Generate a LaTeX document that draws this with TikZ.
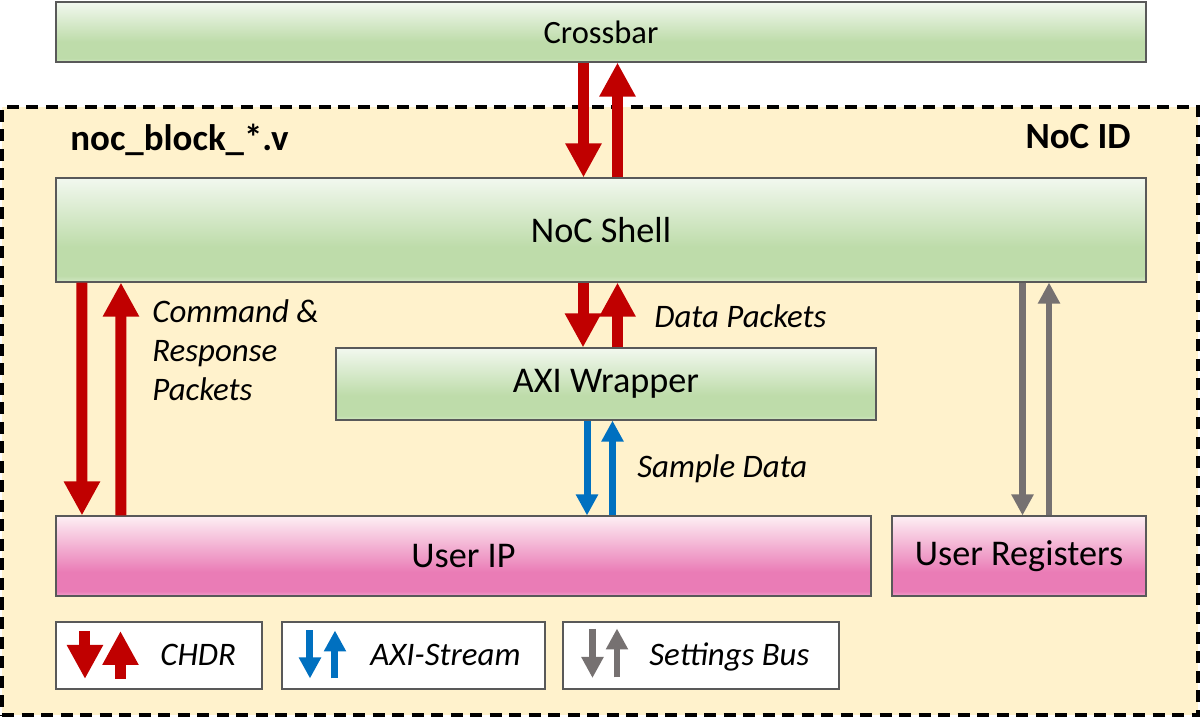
\documentclass[tikz,border=0pt]{standalone}
\usepackage{fontspec}
\setmainfont{Carlito}
\usetikzlibrary{arrows.meta}
\definecolor{chdrred}{HTML}{C00000}
\definecolor{axisblue}{HTML}{0070C0}
\definecolor{busgrey}{HTML}{767171}
\definecolor{blockbg}{HTML}{FFF2CC}
\definecolor{boxline}{HTML}{595959}
\definecolor{grntop}{HTML}{F2F8EF}
\definecolor{grnbot}{HTML}{BEDCAA}
\definecolor{grnlo}{HTML}{D2E8C4}
\definecolor{pnktop}{HTML}{FDEFF4}
\definecolor{pnkbot}{HTML}{EA7CB6}
\definecolor{pnklo}{HTML}{F2A2CC}
\pgfdeclareverticalshading{greenfade}{100bp}{color(0bp)=(grnlo); color(25bp)=(grnlo); color(28bp)=(grnbot); color(42bp)=(grnbot); color(75bp)=(grntop); color(100bp)=(grntop)}
\pgfdeclareverticalshading{pinkfade}{100bp}{color(0bp)=(pnklo); color(25bp)=(pnklo); color(28bp)=(pnkbot); color(40bp)=(pnkbot); color(75bp)=(pnktop); color(100bp)=(pnktop)}
\tikzset{
  block/.style = {draw=boxline, line width=0.6pt, inner sep=0pt,
    font=\fontsize{20.6}{24}\selectfont},
  greenblock/.style = {block, shading=greenfade},% crossbar, shell, wrapper
  pinkblock/.style = {block, shading=pinkfade},% user side
  outerblock/.style = {draw=black, fill=blockbg, line width=0.08cm,
    dash pattern=on 0.24cm off 0.15cm, inner sep=0pt},
  legbox/.style = {draw=boxline, line width=0.6pt, fill=white, inner sep=0pt,
    minimum height=1.34cm},
  itext/.style = {font=\fontsize{18.7}{22}\selectfont\itshape, inner sep=0pt},
  btext/.style = {font=\fontsize{21}{25}\selectfont\bfseries, inner sep=0pt},
  chdrarrow/.style = {draw=chdrred, line width=0.22cm,
    -{Triangle[width=0.68cm,length=0.68cm]}},
  axisarrow/.style = {draw=axisblue, line width=0.14cm,
    -{Triangle[width=0.42cm,length=0.42cm]}},
  busarrow/.style = {draw=busgrey, line width=0.13cm,
    -{Triangle[width=0.42cm,length=0.42cm]}},
}
\begin{document}
\begin{tikzpicture}
\useasboundingbox (0,0) rectangle (24,-14.34);
\node [greenblock, minimum width=21.8cm, minimum height=1.2cm,
  font=\fontsize{18.5}{22}\selectfont] (crossbar) at (12.02,-0.64) {Crossbar};
\node [outerblock, minimum width=23.92cm, minimum height=12.16cm] (nocblock) at (12,-8.22) {};
\node [btext, anchor=base west] (blockname) at (1.4,-3.0) {noc\_block\_*.v};
\node [btext, anchor=base east] (nocid) at (22.62,-2.97) {NoC ID};
\node [greenblock, minimum width=21.8cm, minimum height=2.08cm] (shell) at (12.02,-4.6) {NoC Shell};
\node [greenblock, minimum width=10.8cm, minimum height=1.44cm] (axiwrap) at (12.12,-7.68) {AXI Wrapper};
\node [pinkblock, minimum width=16.3cm, minimum height=1.6cm] (userip) at (9.27,-11.12) {User IP};
\node [pinkblock, minimum width=5.08cm, minimum height=1.6cm] (userreg) at (20.38,-11.12) {User Registers};

% crossbar <-> shell
\draw [chdrarrow] ([xshift=-0.35cm]crossbar.south) -- ([xshift=-0.35cm]shell.north);
\draw [chdrarrow] ([xshift=0.33cm]shell.north) -- ([xshift=0.33cm]crossbar.south);
% shell <-> user ip
\draw [chdrarrow] ([xshift=0.53cm]shell.south west) -- ([xshift=0.53cm]userip.north west);
\draw [chdrarrow] ([xshift=1.31cm]userip.north west) -- ([xshift=1.31cm]shell.south west);
\node [itext, align=left, anchor=base west] (cmdtext) at (3.04,-8.0) {Command \&\\Response\\Packets};
% shell <-> wrapper
\draw [chdrarrow] ([xshift=-0.36cm]shell.south) -- ([xshift=-0.36cm]shell.south |- axiwrap.north);
\draw [chdrarrow] ([xshift=0.33cm]shell.south |- axiwrap.north) -- ([xshift=0.33cm]shell.south);
\node [itext, anchor=base west] (datatext) at (13.08,-6.54) {Data Packets};
% wrapper <-> user ip
\draw [axisarrow] ([xshift=-0.38cm]axiwrap.south) -- ([xshift=-0.38cm]axiwrap.south |- userip.north);
\draw [axisarrow] ([xshift=0.13cm]axiwrap.south |- userip.north) -- ([xshift=0.13cm]axiwrap.south);
\node [itext, anchor=base west] (sampletext) at (12.74,-9.54) {Sample Data};
% shell <-> registers
\draw [busarrow] ([xshift=0.07cm]userreg.north |- shell.south) -- ([xshift=0.07cm]userreg.north);
\draw [busarrow] ([xshift=0.6cm]userreg.north) -- ([xshift=0.6cm]userreg.north |- shell.south);

% legend
\node [legbox, minimum width=4.12cm] (legchdr) at (3.18,-13.11) {};
\node [legbox, minimum width=5.26cm] (legaxis) at (8.27,-13.11) {};
\node [legbox, minimum width=5.52cm] (legbus) at (14.02,-13.11) {};
\draw [chdrarrow] ([shift={(0.59,-0.19)}]legchdr.north west) -- ++(0,-0.96);
\draw [chdrarrow] ([shift={(1.30,-1.15)}]legchdr.north west) -- ++(0,0.96);
\draw [axisarrow] ([shift={(0.57,-0.18)}]legaxis.north west) -- ++(0,-0.96);
\draw [axisarrow] ([shift={(1.07,-1.14)}]legaxis.north west) -- ++(0,0.96);
\draw [busarrow] ([shift={(0.60,-0.15)}]legbus.north west) -- ++(0,-0.98);
\draw [busarrow] ([shift={(1.09,-1.12)}]legbus.north west) -- ++(0,0.98);
\node [itext, anchor=base west] (chdrtext) at (3.2,-13.3) {CHDR};
\node [itext, anchor=base west] (axistext) at (7.4,-13.3) {AXI-Stream};
\node [itext, anchor=base west] (bustext) at (12.98,-13.3) {Settings Bus};
\end{tikzpicture}
\end{document}
